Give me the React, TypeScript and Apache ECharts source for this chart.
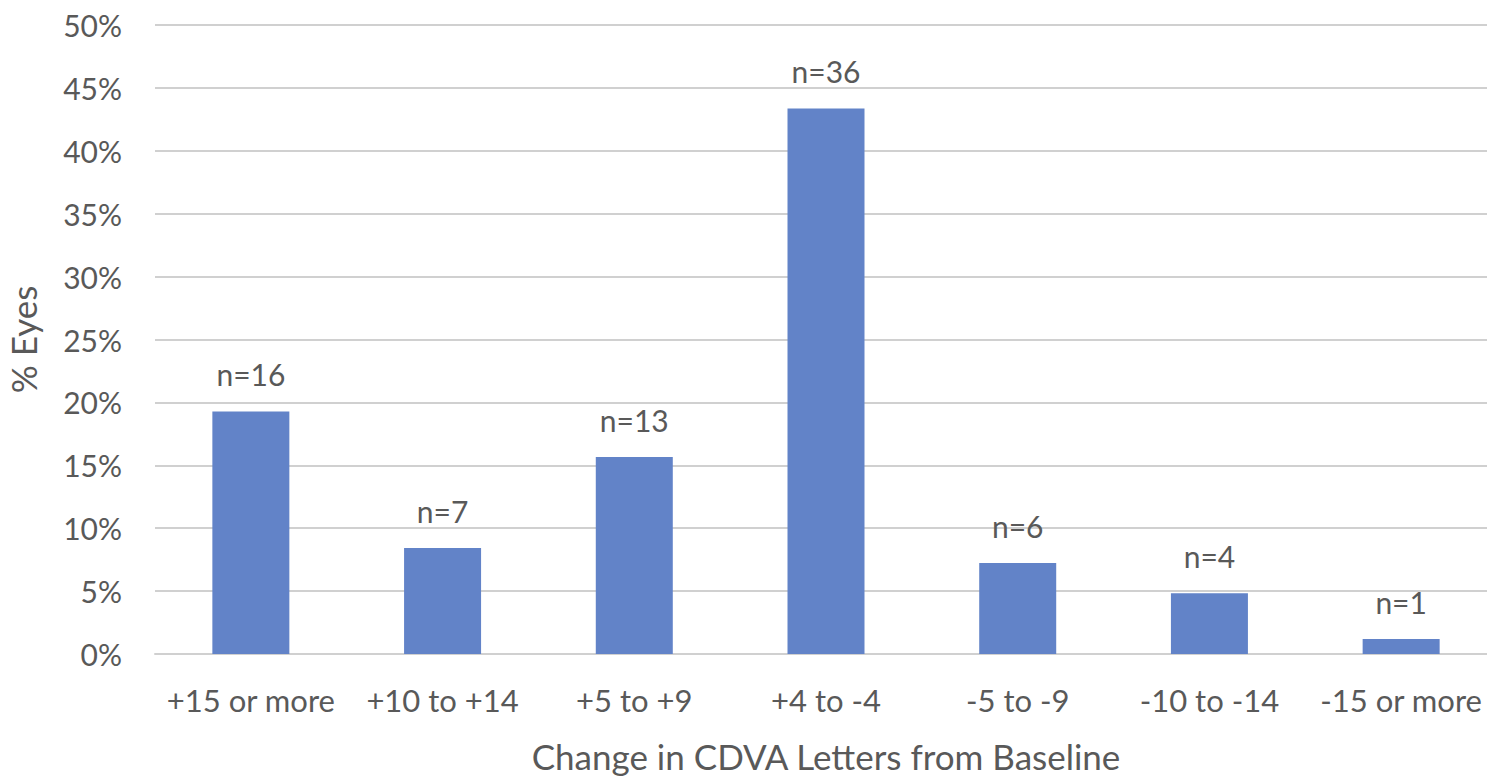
import React, { useEffect, useRef } from "react";
import * as echarts from "echarts";

const categories = ["+15 or more", "+10 to +14", "+5 to +9", "+4 to -4", "-5 to -9", "-10 to -14", "-15 or more"];
const percentEyes = [19.28, 8.43, 15.66, 43.37, 7.23, 4.82, 1.2];
const counts = [16, 7, 13, 36, 6, 4, 1];
const yTicks = { min: 0, max: 50, interval: 5 };

const FONT = "Lato, 'Open Sans', sans-serif";
const TEXT = "#595959";

export default function App() {
  const ref = useRef<HTMLDivElement>(null);
  useEffect(() => {
    if (!ref.current) return;
    const chart = echarts.init(ref.current, null, { renderer: "svg" });
    chart.setOption({
      animation: false,
      backgroundColor: "#ffffff",
      grid: { left: 155, right: 0, top: 25, bottom: 122, containLabel: false, outerBoundsMode: "none" },
      xAxis: {
        type: "category",
        data: categories,
        axisLine: { show: true, lineStyle: { color: "#d0d0d0", width: 2 } },
        axisTick: { show: false },
        axisLabel: { color: TEXT, fontSize: 31, fontFamily: FONT, margin: 30, interval: 0 },
        name: "Change in CDVA Letters from Baseline",
        nameLocation: "middle",
        nameGap: 84,
        nameTextStyle: { color: TEXT, fontSize: 35, fontFamily: FONT },
      },
      yAxis: {
        type: "value",
        min: yTicks.min,
        max: yTicks.max,
        interval: yTicks.interval,
        axisLine: { show: false },
        axisTick: { show: false },
        splitLine: { show: true, lineStyle: { color: "#d0d0d0", width: 2 } },
        axisLabel: { color: TEXT, fontSize: 30, fontFamily: FONT, margin: 33, formatter: "{value}%" },
        name: "% Eyes",
        nameLocation: "middle",
        nameGap: 115,
        nameRotate: 90,
        nameTextStyle: { color: TEXT, fontSize: 35, fontFamily: FONT },
      },
      series: [
        {
          type: "bar",
          data: percentEyes,
          barWidth: 77,
          itemStyle: { color: "#6283c8" },
          label: {
            show: true,
            position: "top",
            distance: 22,
            color: TEXT,
            fontSize: 30,
            fontFamily: FONT,
            formatter: (p: any) => "n=" + counts[p.dataIndex],
          },
        },
      ],
    });
    return () => chart.dispose();
  }, []);
  return (
    <div style={{ position: "absolute", left: 0, top: 0, width: 1487, height: 776, overflow: "hidden" }}>
      <div ref={ref} style={{ width: 1497, height: 776 }} />
    </div>
  );
}
